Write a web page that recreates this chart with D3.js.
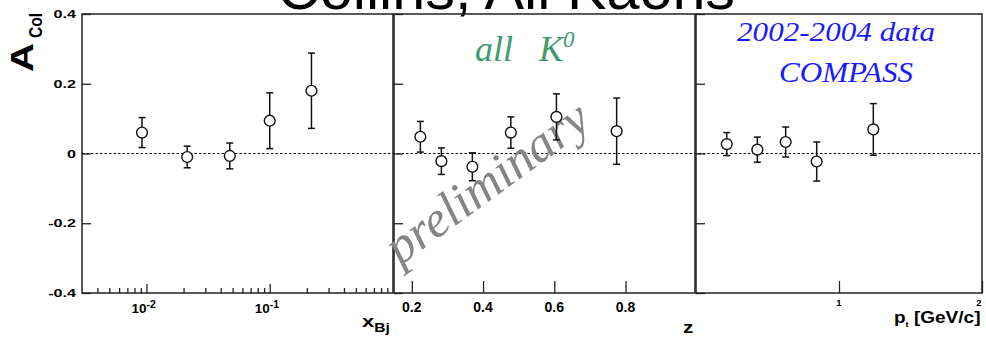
<!DOCTYPE html>
<html>
<head>
<meta charset="utf-8">
<script src="https://cdn.jsdelivr.net/npm/d3@7"></script>
<style>
  body { margin: 0; background: #fff; }
  svg { display: block; }
  text { font-family: "Liberation Sans", Arial, sans-serif; }
</style>
</head>
<body>
<svg id="chart" width="986" height="337"></svg>
<script>
// panel 1: x_Bj
const xBj = [0.0092, 0.0214, 0.0474, 0.100, 0.218];
const aColXBj = [0.060, -0.010, -0.007, 0.094, 0.180];
const errXBj = [0.043, 0.031, 0.037, 0.080, 0.108];

// panel 2: z
const zVals = [0.224, 0.283, 0.370, 0.478, 0.606, 0.775];
const aColZ = [0.048, -0.022, -0.038, 0.060, 0.105, 0.064];
const errZ = [0.044, 0.038, 0.040, 0.045, 0.066, 0.095];

// panel 3: p_t
const ptVals = [0.215, 0.429, 0.627, 0.844, 1.24];
const aColPt = [0.027, 0.011, 0.033, -0.023, 0.069];
const errPt = [0.033, 0.036, 0.043, 0.056, 0.074];

const yTicks = [-0.4, -0.2, 0, 0.2, 0.4];
const yTickLabels = ["-0.4", "-0.2", "0", "0.2", "0.4"];
const zTicks = [0.2, 0.4, 0.6, 0.8];
const ptTicks = [1, 2];
const xBjMajor = [0.01, 0.1];
const xBjMinor = [0.004, 0.005, 0.006, 0.007, 0.008, 0.009,
                  0.02, 0.03, 0.04, 0.05, 0.06, 0.07, 0.08, 0.09,
                  0.2, 0.3, 0.4, 0.5, 0.6, 0.7, 0.8, 0.9];

const svg = d3.select("#chart");
const yTop = 14, yBottom = 293;

const y = d3.scaleLinear().domain([-0.4, 0.4]).range([yBottom, yTop]);

const panels = [
  { x: d3.scaleLog().domain([0.003, 1]).range([82, 393]), xs: xBj, ys: aColXBj, es: errXBj },
  { x: d3.scaleLinear().domain([0.15, 0.995]).range([394, 695]), xs: zVals, ys: aColZ, es: errZ },
  { x: d3.scaleLinear().domain([0, 2]).range([696, 982]), xs: ptVals, ys: aColPt, es: errPt }
];

// the ROOT labels are drawn with a wide helvetica, so stretch ours a bit
const wide = (x, y, sx) => `translate(${x},${y}) scale(${sx},1)`;

// title, cut off at the top like the original
svg.append("text")
  .attr("x", 277).attr("y", 9)
  .attr("font-size", 60)
  .attr("textLength", 458)
  .attr("lengthAdjust", "spacingAndGlyphs")
  .text("Collins, All Kaons");

panels.forEach(p => {
  const g = svg.append("g");

  // y ticks, inward
  g.append("g")
    .attr("transform", `translate(${p.x.range()[0]},0)`)
    .call(d3.axisLeft(y).tickValues(yTicks).tickSize(-9).tickFormat(""))
    .call(a => a.select(".domain").remove())
    .call(a => a.selectAll("line").attr("stroke", "#222").attr("stroke-width", 1.3));

  g.append("rect")
    .attr("x", p.x.range()[0]).attr("y", yTop)
    .attr("width", p.x.range()[1] - p.x.range()[0])
    .attr("height", yBottom - yTop)
    .attr("fill", "none")
    .attr("stroke", "#222")
    .attr("stroke-width", 1.5);
});

// y tick labels on first panel only
svg.append("g").selectAll("text")
  .data(yTicks)
  .join("text")
  .attr("transform", d => wide(76, y(d) + 4, 1.4))
  .attr("text-anchor", "end")
  .attr("font-size", 11.5)
  .attr("font-weight", "bold")
  .text((d, i) => yTickLabels[i]);

// zero line
svg.append("line")
  .attr("x1", 82).attr("x2", 982)
  .attr("y1", y(0)).attr("y2", y(0))
  .attr("stroke", "#111")
  .attr("stroke-width", 1.2)
  .attr("stroke-dasharray", "2.5,2");

// x ticks
const xb = panels[0].x;
const tickStyle = a => a.select(".domain").remove();
svg.append("g")
  .attr("transform", `translate(0,${yBottom})`)
  .call(d3.axisBottom(xb).tickValues(xBjMajor).tickSize(-9).tickFormat(""))
  .call(tickStyle)
  .call(a => a.selectAll("line").attr("stroke", "#222").attr("stroke-width", 1.3));
svg.append("g")
  .attr("transform", `translate(0,${yBottom})`)
  .call(d3.axisBottom(xb).tickValues(xBjMinor).tickSize(-5).tickFormat(""))
  .call(tickStyle)
  .call(a => a.selectAll("line").attr("stroke", "#222").attr("stroke-width", 1.3));

svg.append("g")
  .attr("transform", `translate(0,${yBottom})`)
  .call(d3.axisBottom(panels[1].x).tickValues(zTicks).tickSize(-12).tickFormat(""))
  .call(tickStyle)
  .call(a => a.selectAll("line").attr("stroke", "#222").attr("stroke-width", 1.3));

svg.append("g")
  .attr("transform", `translate(0,${yBottom})`)
  .call(d3.axisBottom(panels[2].x).tickValues(ptTicks).tickSize(-12).tickFormat(""))
  .call(tickStyle)
  .call(a => a.selectAll("line").attr("stroke", "#222").attr("stroke-width", 1.3));

// x tick labels
const lbl1 = svg.append("g").selectAll("text")
  .data(xBjMajor)
  .join("text")
  .attr("x", d => xb(d) - 15)
  .attr("y", 313)
  .attr("font-size", 13.5)
  .attr("font-weight", "bold");
lbl1.append("tspan").text("10");
lbl1.append("tspan").attr("font-size", 10.5).attr("dy", -5).text(d => Math.round(Math.log10(d)));

svg.append("g").selectAll("text")
  .data(zTicks)
  .join("text")
  .attr("x", d => panels[1].x(d))
  .attr("y", 312)
  .attr("text-anchor", "middle")
  .attr("font-size", 14)
  .attr("font-weight", "bold")
  .text(d => d3.format(".1f")(d));

svg.append("g").selectAll("text")
  .data(ptTicks)
  .join("text")
  .attr("x", d => panels[2].x(d) - (d === 2 ? 3 : 0))
  .attr("y", 306)
  .attr("text-anchor", "middle")
  .attr("font-size", 9.5)
  .attr("font-weight", "bold")
  .text(d => d);

// axis titles
const tx = svg.append("text").attr("transform", wide(362, 327, 1.3))
  .attr("font-size", 17).attr("font-weight", "bold");
tx.append("tspan").text("x");
tx.append("tspan").attr("font-size", 12).attr("dy", 5).text("Bj");

svg.append("text").attr("transform", wide(683, 333, 1.3))
  .attr("font-size", 16).attr("font-weight", "bold").text("z");

const tp = svg.append("text").attr("transform", wide(894, 323, 1.12))
  .attr("font-size", 17).attr("font-weight", "bold");
tp.append("tspan").text("p");
tp.append("tspan").attr("font-size", 8).attr("dy", 4).text("t");
tp.append("tspan").attr("dy", -4).text(" [GeV/c]");

// y axis title
const yt = svg.append("g").attr("transform", "translate(33,72) rotate(-90)");
yt.append("text").attr("font-size", 31).attr("font-weight", "bold")
  .attr("textLength", 29).attr("lengthAdjust", "spacingAndGlyphs").text("A");
yt.append("text").attr("x", 34).attr("y", 9).attr("font-size", 18).attr("font-weight", "bold")
  .attr("textLength", 25).attr("lengthAdjust", "spacingAndGlyphs").text("Col");

// annotations
svg.append("text")
  .attr("transform", "translate(400,266) rotate(-36)")
  .attr("font-style", "italic")
  .attr("font-size", 51)
  .attr("fill", "#858585")
  .style("font-family", "'Liberation Serif', serif")
  .text("preliminary");

const k0 = svg.append("text")
  .attr("x", 475).attr("y", 61)
  .attr("font-size", 36)
  .attr("font-style", "italic")
  .attr("fill", "#3f9b6e")
  .style("font-family", "'Liberation Serif', serif");
k0.append("tspan").text("all");
k0.append("tspan").attr("dx", 26).text("K");
k0.append("tspan").attr("font-size", 23).attr("dy", -14).text("0");

svg.append("text")
  .attr("x", 737).attr("y", 41)
  .attr("font-size", 27)
  .attr("font-style", "italic")
  .attr("fill", "#1a1aff")
  .attr("textLength", 198)
  .attr("lengthAdjust", "spacingAndGlyphs")
  .style("font-family", "'Liberation Serif', serif")
  .text("2002-2004 data");

svg.append("text")
  .attr("x", 779).attr("y", 82)
  .attr("font-size", 30)
  .attr("font-style", "italic")
  .attr("fill", "#1a1aff")
  .attr("textLength", 134)
  .attr("lengthAdjust", "spacingAndGlyphs")
  .style("font-family", "'Liberation Serif', serif")
  .text("COMPASS");

// data points with error bars
panels.forEach(p => {
  const pts = p.xs.map((v, i) => ({ x: v, y: p.ys[i], e: p.es[i] }));
  const g = svg.append("g");
  const eb = g.selectAll("g.err").data(pts).join("g").attr("class", "err")
    .attr("stroke", "#111").attr("stroke-width", 1.5);
  eb.append("line")
    .attr("x1", d => p.x(d.x)).attr("x2", d => p.x(d.x))
    .attr("y1", d => y(d.y - d.e)).attr("y2", d => y(d.y + d.e));
  eb.append("line")
    .attr("x1", d => p.x(d.x) - 3.5).attr("x2", d => p.x(d.x) + 3.5)
    .attr("y1", d => y(d.y + d.e)).attr("y2", d => y(d.y + d.e));
  eb.append("line")
    .attr("x1", d => p.x(d.x) - 3.5).attr("x2", d => p.x(d.x) + 3.5)
    .attr("y1", d => y(d.y - d.e)).attr("y2", d => y(d.y - d.e));
  g.selectAll("circle").data(pts).join("circle")
    .attr("cx", d => p.x(d.x))
    .attr("cy", d => y(d.y))
    .attr("r", 5.4)
    .attr("fill", "#fff")
    .attr("stroke", "#111")
    .attr("stroke-width", 1.4);
});
</script>
</body>
</html>
